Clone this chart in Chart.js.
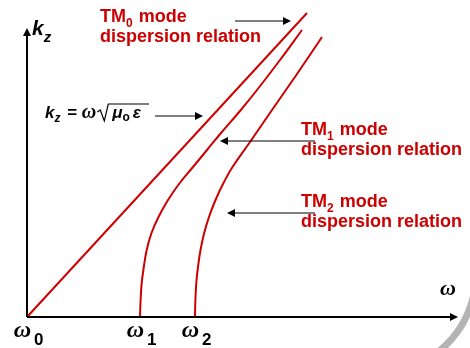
<!DOCTYPE html>
<html>
<head>
<meta charset="utf-8">
<script src="https://cdn.jsdelivr.net/npm/chart.js@4/dist/chart.umd.min.js"></script>
<style>
  body { margin: 0; background: #fff; }
</style>
</head>
<body>
<canvas id="chart" width="470" height="348"></canvas>
<script>
// values (omega, k_z in arbitrary units)
const tm0Omega = [0, 2.8];
const tm0K = [0, 3.04];

const tm1Omega = [1.13, 1.136, 1.147, 1.168, 1.197, 1.245, 1.315, 1.41, 1.52, 1.66, 1.8, 1.94, 2.13, 2.3, 2.53, 2.75];
const tm1K = [0, 0.17, 0.34, 0.5, 0.67, 0.84, 1.0, 1.17, 1.33, 1.5, 1.67, 1.84, 2.06, 2.27, 2.57, 2.87];

const tm2Omega = [1.68, 1.684, 1.693, 1.71, 1.735, 1.772, 1.82, 1.885, 1.965, 2.055, 2.23, 2.45, 2.7, 2.95];
const tm2K = [0, 0.17, 0.34, 0.5, 0.67, 0.84, 1.0, 1.17, 1.34, 1.5, 1.75, 2.07, 2.43, 2.8];

const cutoffOmega = [0, 1.13, 1.68];
const cutoffNames = ["0", "1", "2"];

const RED = "#cc0000";

function toPoints(xs, ys) {
  return xs.map((x, i) => ({ x: x, y: ys[i] }));
}

function arrow(ctx, x1, y1, x2, y2) {
  // thin line with filled head at (x2, y2)
  const ang = Math.atan2(y2 - y1, x2 - x1);
  ctx.beginPath();
  ctx.moveTo(x1, y1);
  ctx.lineTo(x2 - 7 * Math.cos(ang), y2 - 7 * Math.sin(ang));
  ctx.stroke();
  ctx.beginPath();
  ctx.moveTo(x2, y2);
  ctx.lineTo(x2 - 8 * Math.cos(ang) + 4 * Math.sin(ang), y2 - 8 * Math.sin(ang) - 4 * Math.cos(ang));
  ctx.lineTo(x2 - 8 * Math.cos(ang) - 4 * Math.sin(ang), y2 - 8 * Math.sin(ang) + 4 * Math.cos(ang));
  ctx.closePath();
  ctx.fill();
}

// write pieces one after the other: [text, font, dy, extra gap]
function runText(ctx, x, y, pieces) {
  pieces.forEach((p) => {
    ctx.font = p[1];
    ctx.fillText(p[0], x, y + (p[2] || 0));
    x += ctx.measureText(p[0]).width + (p[3] || 0);
  });
  return x;
}

function modeLabel(ctx, x, y, sub) {
  ctx.fillStyle = RED;
  runText(ctx, x, y, [
    ["TM", "bold 18px 'Liberation Sans'"],
    [sub, "bold 12px 'Liberation Sans'", 5, 1],
    [" mode", "bold 18px 'Liberation Sans'"],
  ]);
  ctx.font = "bold 18px 'Liberation Sans'";
  ctx.fillText("dispersion relation", x, y + 20);
}

const decorations = {
  id: "decorations",
  afterDraw(chart) {
    const ctx = chart.ctx;
    const xs = chart.scales.x;
    const ys = chart.scales.y;
    const x0 = xs.getPixelForValue(0);
    const y0 = ys.getPixelForValue(0);
    ctx.save();
    ctx.textBaseline = "alphabetic";
    ctx.fillStyle = "#000";
    ctx.strokeStyle = "#000";

    // axes
    ctx.lineWidth = 2;
    arrow(ctx, x0, y0, x0, 28);
    arrow(ctx, x0, y0, xs.right, y0);

    // axis names
    const bi = "bold italic 21px 'Liberation Sans'";
    runText(ctx, 32, 35, [["k", bi], ["z", "bold italic 15px 'Liberation Sans'", 7]]);
    ctx.font = "bold italic 22px 'Liberation Serif'";
    ctx.fillText("\u03c9", 440, 295);

    // cutoff labels under the axis
    cutoffOmega.forEach((w, i) => {
      const px = xs.getPixelForValue(w);
      ctx.font = "bold italic 24px 'Liberation Serif'";
      ctx.textAlign = "right";
      ctx.fillText("\u03c9", px + 4, 337);
      ctx.textAlign = "left";
      ctx.font = "bold 17px 'Liberation Sans'";
      ctx.fillText(cutoffNames[i], px + 7, 345);
    });

    // light-line formula
    let x = runText(ctx, 45, 118, [
      ["k", "bold italic 17px 'Liberation Sans'"],
      ["z", "bold italic 12px 'Liberation Sans'", 4, 2],
      [" = ", "bold 17px 'Liberation Sans'"],
      ["\u03c9", "bold italic 20px 'Liberation Serif'"],
    ]);
    ctx.lineWidth = 1.2;
    ctx.beginPath();
    ctx.moveTo(x + 1, 112);
    ctx.lineTo(x + 4, 110);
    ctx.lineTo(x + 8, 121);
    ctx.lineTo(x + 12, 104);
    ctx.lineTo(149, 104);
    ctx.stroke();
    runText(ctx, x + 16, 118, [
      ["\u03bc", "bold italic 17px 'Liberation Sans'"],
      ["o", "bold 12px 'Liberation Sans'", 3, 3],
      ["\u03b5", "bold italic 17px 'Liberation Sans'"],
    ]);

    // pointer arrows
    ctx.lineWidth = 1;
    arrow(ctx, 235, 21, 291, 21);
    arrow(ctx, 155, 116, 203, 116);
    arrow(ctx, 315, 141, 220, 141);
    arrow(ctx, 315, 213, 227, 213);

    // mode captions
    modeLabel(ctx, 100, 22, "0");
    modeLabel(ctx, 301, 135, "1");
    modeLabel(ctx, 301, 207, "2");

    // grey slide swoosh in the corner
    ctx.strokeStyle = "#b4b4b4";
    ctx.lineWidth = 7;
    ctx.beginPath();
    ctx.moveTo(474, 294);
    ctx.quadraticCurveTo(466, 330, 438, 352);
    ctx.stroke();
    ctx.restore();
  },
};

const lineStyle = {
  showLine: true,
  borderColor: RED,
  borderWidth: 2,
  pointRadius: 0,
  tension: 0.4,
  clip: false,
};

new Chart(document.getElementById("chart"), {
  type: "scatter",
  data: {
    datasets: [
      Object.assign({ label: "TM0", data: toPoints(tm0Omega, tm0K) }, lineStyle),
      Object.assign({ label: "TM1", data: toPoints(tm1Omega, tm1K) }, lineStyle),
      Object.assign({ label: "TM2", data: toPoints(tm2Omega, tm2K) }, lineStyle),
    ],
  },
  options: {
    responsive: false,
    animation: false,
    layout: { padding: { left: 27, right: 12, top: 13, bottom: 31 } },
    plugins: { legend: { display: false }, tooltip: { enabled: false } },
    scales: {
      x: { type: "linear", min: 0, max: 4.31, display: false },
      y: { type: "linear", min: 0, max: 3.04, display: false },
    },
  },
  plugins: [decorations],
});
</script>
</body>
</html>
